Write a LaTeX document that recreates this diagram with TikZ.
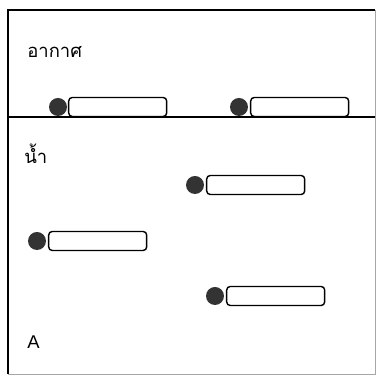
\documentclass[tikz,border=0pt]{standalone}
\usepackage{fontspec}
\newfontfamily\thaifont[Script=Thai]{Loma}
\setsansfont{Liberation Sans}
\tikzset{
  ball/.style={circle, fill=black!80, inner sep=0pt, minimum size=0.36cm},
  slot/.style={draw, thick, fill=white, rounded corners=2pt, inner sep=0pt,
    minimum width=1.96cm, minimum height=0.38cm},
  label/.style={anchor=west, inner sep=0pt, font=\fontsize{10.5}{12}\selectfont}
}
\begin{document}
\begin{tikzpicture}[x=0.02cm, y=-0.02cm]
% page size
\useasboundingbox (0,0) rectangle (380,377);

% outer frame and the water surface
\draw[black!35] (375,10) -- (375,374) -- (8,374);
\draw[thick] (8,374) -- (8,10) -- (375,10);
\draw[thick] (8,117) -- (375,117);

% labels
\node[label] (air) at (27,52) {\thaifont อากาศ};
\node[label] (water) at (24,154) {\thaifont น้ำ};
\node[label] (a) at (27,342) {\sffamily A};

% balls with their slots
\node[ball] (b1) at (58,107) {};
\node[slot, anchor=west] (s1) at (68,107) {};
\node[ball] (b2) at (239,107) {};
\node[slot, anchor=west] (s2) at (250,107) {};
\node[ball] (b3) at (195,185) {};
\node[slot, anchor=west] (s3) at (206,185) {};
\node[ball] (b4) at (37,241) {};
\node[slot, anchor=west] (s4) at (48,241) {};
\node[ball] (b5) at (215,296) {};
\node[slot, anchor=west] (s5) at (226,296) {};
\end{tikzpicture}
\end{document}
